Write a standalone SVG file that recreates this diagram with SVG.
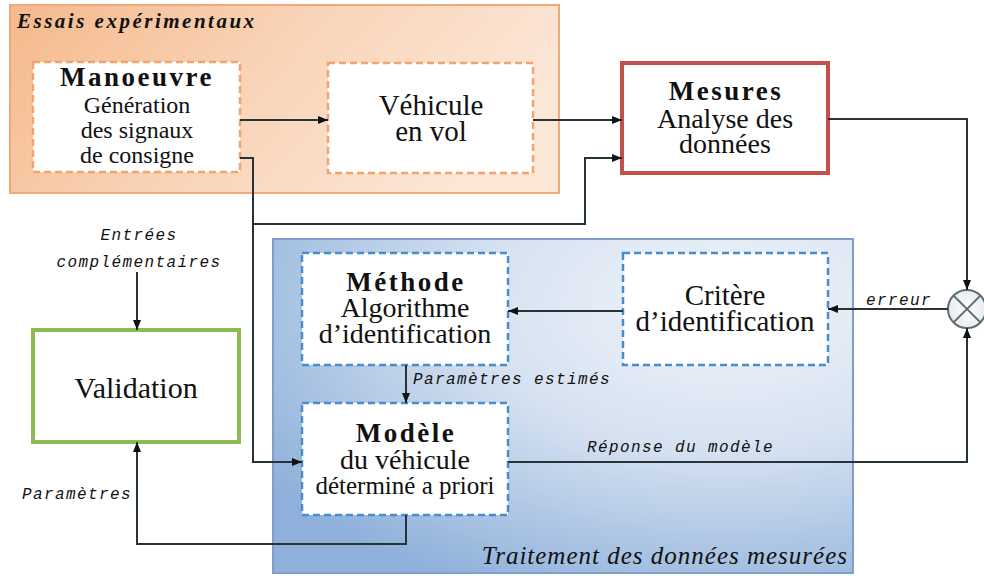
<svg xmlns="http://www.w3.org/2000/svg" width="984" height="576" viewBox="0 0 984 576">
<defs>
<linearGradient id="gOrange" x1="0" y1="0" x2="1" y2="0.3">
<stop offset="0" stop-color="#f5b98c"/>
<stop offset="0.5" stop-color="#f9d3b6"/>
<stop offset="1" stop-color="#fce6d6"/>
</linearGradient>
<radialGradient id="gBlue" cx="0.78" cy="0.2" r="0.95">
<stop offset="0" stop-color="#f0f4fa"/>
<stop offset="0.45" stop-color="#d6e2f1"/>
<stop offset="1" stop-color="#8eb0da"/>
</radialGradient>
<radialGradient id="gCirc" cx="0.5" cy="0.5" r="0.5">
<stop offset="0" stop-color="#ffffff"/>
<stop offset="1" stop-color="#e6ebee"/>
</radialGradient>
<marker id="ah" viewBox="0 0 10 10" refX="10" refY="5" markerWidth="10" markerHeight="10" markerUnits="userSpaceOnUse" orient="auto">
<path d="M0,1 L10,5 L0,9 z" fill="#111"/>
</marker>
</defs>
<style>
.serif{font-family:"Liberation Serif","Times New Roman",serif;fill:#111;text-anchor:middle}
.title{font-weight:bold;font-size:27px;letter-spacing:2.5px}
.mono{font-family:"Liberation Mono","Courier New",monospace;font-style:italic;font-size:16px;letter-spacing:1.4px;fill:#111}
.dashO{fill:#fff;stroke:#f0a46e;stroke-width:2.5;stroke-dasharray:7 4}
.dashB{fill:#fff;stroke:#4a8dcc;stroke-width:2.5;stroke-dasharray:7 4}
.conn path{fill:none;stroke:#26343a;stroke-width:2}
.arr{marker-end:url(#ah)}
</style>

<g id="panel-essais">
<rect x="10" y="5" width="549" height="188" fill="url(#gOrange)" stroke="#eeaa7c" stroke-width="2"/>
<text x="17" y="28" font-family="'Liberation Serif',serif" font-weight="bold" font-style="italic" font-size="21" letter-spacing="2.5" fill="#111">Essais expérimentaux</text>
</g>

<g id="panel-traitement">
<rect x="273" y="239" width="580" height="334" fill="url(#gBlue)" stroke="#7f9fcb" stroke-width="2"/>
<text x="848" y="564" font-family="'Liberation Serif',serif" font-style="italic" font-size="25" letter-spacing="1" text-anchor="end" fill="#111">Traitement des données mesurées</text>
</g>

<g id="manoeuvre">
<rect class="dashO" x="33" y="62" width="207" height="110"/>
<text class="serif title" x="137" y="86">Manoeuvre</text>
<text class="serif" font-size="24" x="137" y="113">Génération</text>
<text class="serif" font-size="24" x="137" y="138">des signaux</text>
<text class="serif" font-size="24" x="137" y="163">de consigne</text>
</g>

<g id="vehicule">
<rect class="dashO" x="328" y="63" width="205" height="110"/>
<text class="serif" font-size="29" x="431" y="115">Véhicule</text>
<text class="serif" font-size="29" x="431" y="141">en vol</text>
</g>

<g id="mesures">
<rect x="622" y="63" width="206" height="110" fill="#fff" stroke="#c4504c" stroke-width="4"/>
<text class="serif title" x="726" y="100">Mesures</text>
<text class="serif" font-size="28" x="725" y="128">Analyse des</text>
<text class="serif" font-size="28" x="725" y="153">données</text>
</g>

<g id="validation">
<rect x="33" y="330" width="206" height="112" fill="#fff" stroke="#8dbb52" stroke-width="4"/>
<text class="serif" font-size="30" x="136" y="398">Validation</text>
</g>

<g id="methode">
<rect class="dashB" x="302" y="253" width="206" height="112"/>
<text class="serif title" x="406" y="291">Méthode</text>
<text class="serif" font-size="28" x="405" y="317">Algorithme</text>
<text class="serif" font-size="28" x="405" y="343">d’identification</text>
</g>

<g id="critere">
<rect class="dashB" x="623" y="253" width="205" height="112"/>
<text class="serif" font-size="29" x="725" y="305">Critère</text>
<text class="serif" font-size="29" x="725" y="331">d’identification</text>
</g>

<g id="modele">
<rect class="dashB" x="302" y="403" width="206" height="112"/>
<text class="serif title" x="406" y="442">Modèle</text>
<text class="serif" font-size="28" x="405" y="469">du véhicule</text>
<text class="serif" font-size="25" x="405" y="494">déterminé a priori</text>
</g>

<g id="comparateur">
<circle cx="967" cy="309" r="19" fill="url(#gCirc)" stroke="#5c6c72" stroke-width="2"/>
<path d="M953.6,295.6 L980.4,322.4 M980.4,295.6 L953.6,322.4" stroke="#5c6c72" stroke-width="2"/>
</g>

<g id="connectors" class="conn">
<path class="arr" d="M240,120 H328"/>
<path class="arr" d="M533,120 H622"/>
<path class="arr" d="M240,158 H253 V462 H302"/>
<path class="arr" d="M253,224 H585 V158 H622"/>
<path class="arr" d="M828,119 H967 V290"/>
<path class="arr" d="M948,309 H828"/>
<path class="arr" d="M623,311 H508"/>
<path class="arr" d="M406,365 V403"/>
<path class="arr" d="M508,462 H967 V328"/>
<path class="arr" d="M406,515 V544 H137 V442"/>
<path class="arr" d="M137,272 V330"/>
</g>

<g id="labels">
<text class="mono" x="139" y="240" text-anchor="middle">Entrées</text>
<text class="mono" x="139" y="267" text-anchor="middle">complémentaires</text>
<text class="mono" x="866" y="305">erreur</text>
<text class="mono" x="413" y="384">Paramètres estimés</text>
<text class="mono" x="587" y="452">Réponse du modèle</text>
<text class="mono" x="22" y="499">Paramètres</text>
</g>
</svg>
